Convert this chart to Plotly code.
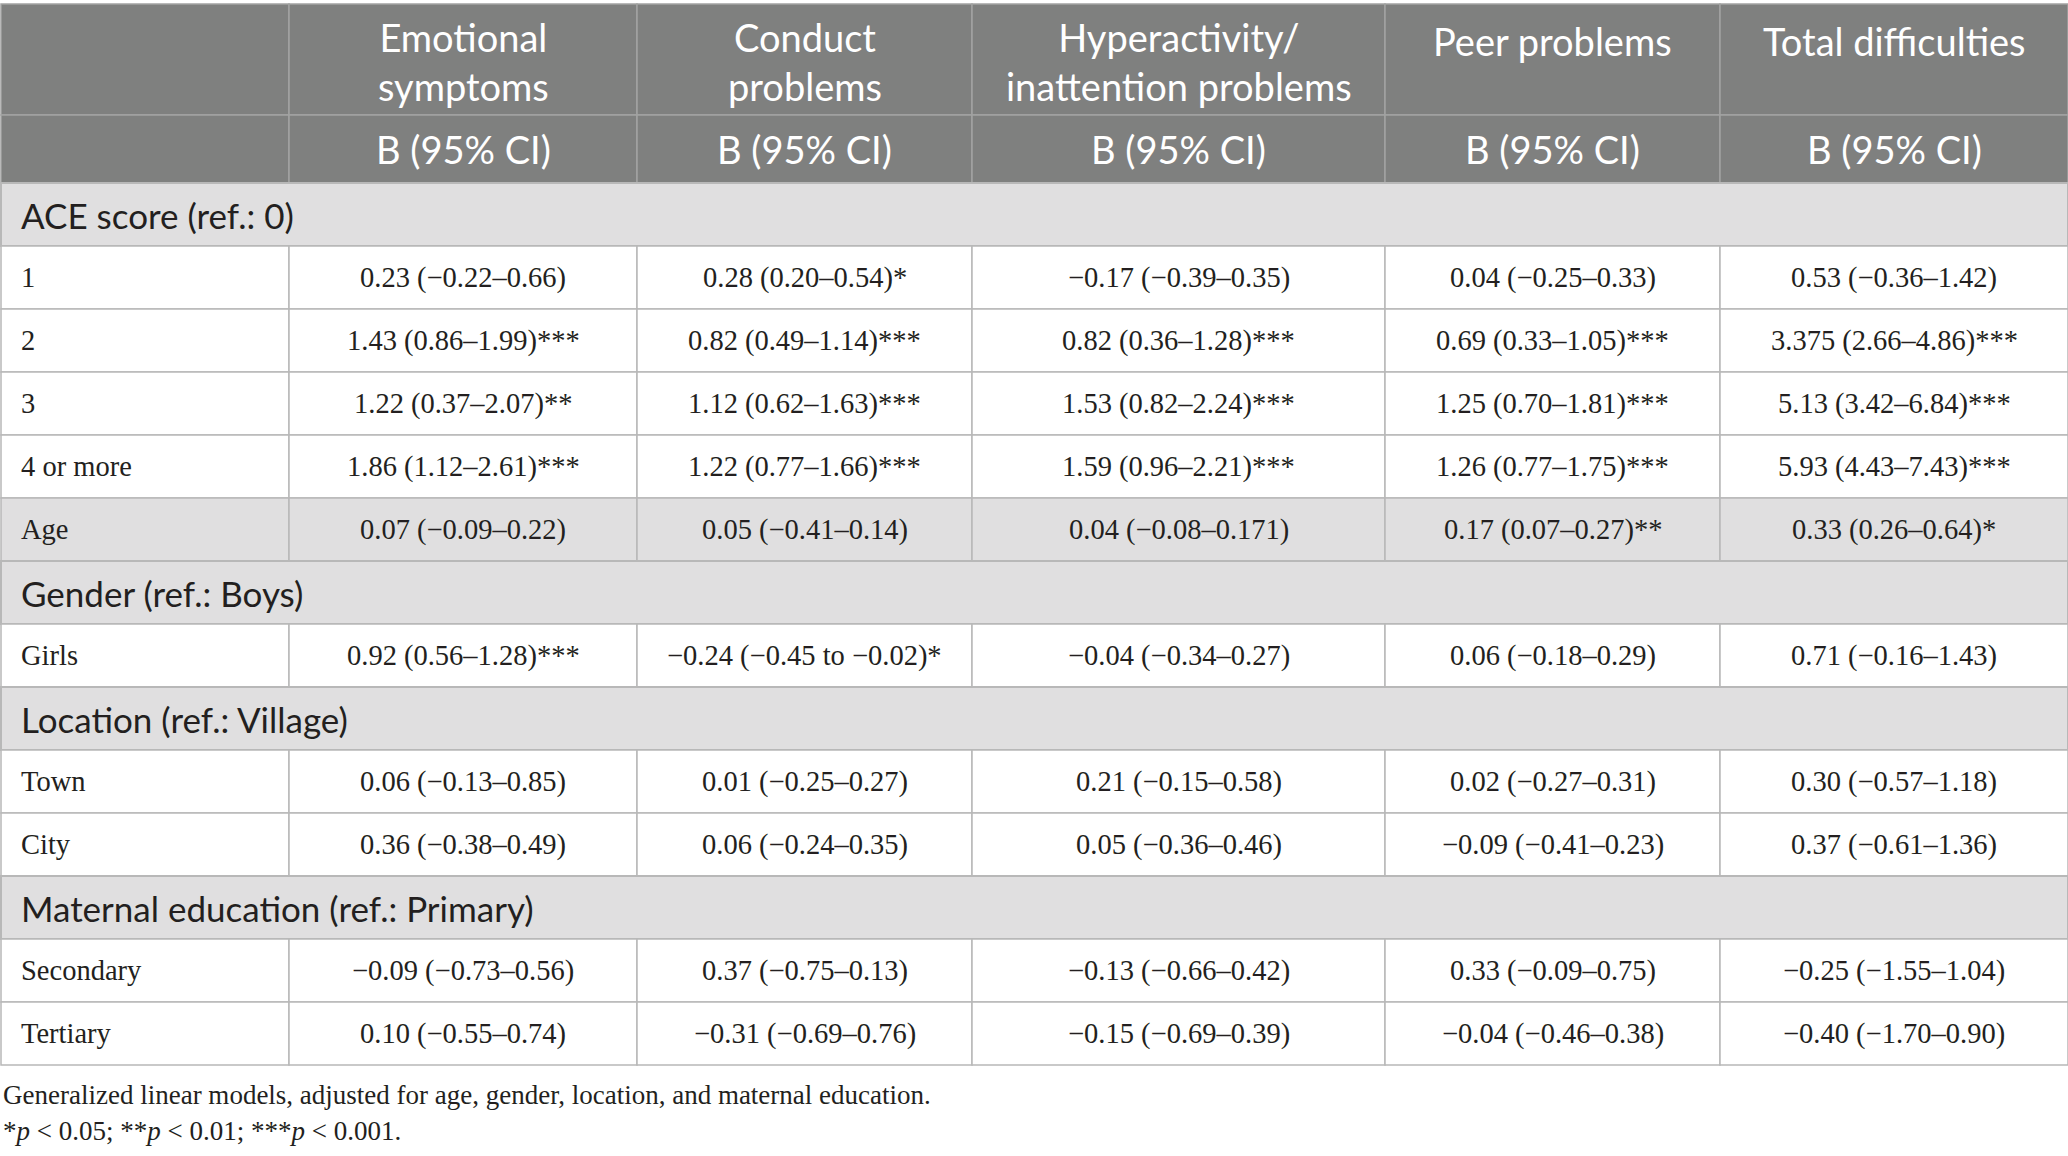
import plotly.graph_objects as go

# ---------------------------- Table content ---------------------------- #

OUTCOMES = [
    "Emotional<br>symptoms",
    "Conduct<br>problems",
    "Hyperactivity/<br>inattention problems",
    "Peer problems",
    "Total difficulties",
]
STAT_LABEL = "B (95% CI)"

ROW_LABELS = [
    "ACE score (ref.: 0)", "1", "2", "3", "4 or more", "Age",
    "Gender (ref.: Boys)", "Girls",
    "Location (ref.: Village)", "Town", "City",
    "Maternal education (ref.: Primary)", "Secondary", "Tertiary",
]
SHADED_ROWS = ["Age"]

EMOTIONAL = ["", "0.23 (−0.22–0.66)", "1.43 (0.86–1.99)***", "1.22 (0.37–2.07)**",
             "1.86 (1.12–2.61)***", "0.07 (−0.09–0.22)", "", "0.92 (0.56–1.28)***", "",
             "0.06 (−0.13–0.85)", "0.36 (−0.38–0.49)", "", "−0.09 (−0.73–0.56)",
             "0.10 (−0.55–0.74)"]
CONDUCT = ["", "0.28 (0.20–0.54)*", "0.82 (0.49–1.14)***", "1.12 (0.62–1.63)***",
           "1.22 (0.77–1.66)***", "0.05 (−0.41–0.14)", "", "−0.24 (−0.45 to −0.02)*", "",
           "0.01 (−0.25–0.27)", "0.06 (−0.24–0.35)", "", "0.37 (−0.75–0.13)",
           "−0.31 (−0.69–0.76)"]
HYPERACTIVITY = ["", "−0.17 (−0.39–0.35)", "0.82 (0.36–1.28)***", "1.53 (0.82–2.24)***",
                 "1.59 (0.96–2.21)***", "0.04 (−0.08–0.171)", "", "−0.04 (−0.34–0.27)", "",
                 "0.21 (−0.15–0.58)", "0.05 (−0.36–0.46)", "", "−0.13 (−0.66–0.42)",
                 "−0.15 (−0.69–0.39)"]
PEER = ["", "0.04 (−0.25–0.33)", "0.69 (0.33–1.05)***", "1.25 (0.70–1.81)***",
        "1.26 (0.77–1.75)***", "0.17 (0.07–0.27)**", "", "0.06 (−0.18–0.29)", "",
        "0.02 (−0.27–0.31)", "−0.09 (−0.41–0.23)", "", "0.33 (−0.09–0.75)",
        "−0.04 (−0.46–0.38)"]
TOTAL = ["", "0.53 (−0.36–1.42)", "3.375 (2.66–4.86)***", "5.13 (3.42–6.84)***",
         "5.93 (4.43–7.43)***", "0.33 (0.26–0.64)*", "", "0.71 (−0.16–1.43)", "",
         "0.30 (−0.57–1.18)", "0.37 (−0.61–1.36)", "", "−0.25 (−1.55–1.04)",
         "−0.40 (−1.70–0.90)"]

FOOTNOTES = [
    "Generalized linear models, adjusted for age, gender, location, and maternal education.",
    "*<i>p</i> < 0.05; **<i>p</i> < 0.01; ***<i>p</i> < 0.001.",
]

# ---------------------------- Layout / style ---------------------------- #

PAGE_W, PAGE_H = 2068, 1156

COL_EDGES = [1, 289, 637, 972, 1385, 1720, 2068]
HEADER_TOP, HEADER_MID, HEADER_BOTTOM = 4, 115, 183
TABLE_BOTTOM = 1065
HEADER_TEXT_Y = 61
SINGLE_LINE_Y = 41
LABEL_X = 19
FOOTNOTE_X = 1
FOOTNOTE_Y = [1095, 1131]

HEADER_FILL = "#7f807f"
HEADER_GRID = "#a2a3a2"
SECTION_FILL = "#e0dfe0"
BORDER = "#b8b8b8"
TEXT = "#231f20"

SANS = "Lato"
SERIF = "Liberation Serif"

# ---------------------------- Build figure ---------------------------- #

fig = go.Figure()

columns = [EMOTIONAL, CONDUCT, HYPERACTIVITY, PEER, TOTAL]
n_rows = len(ROW_LABELS)
row_h = (TABLE_BOTTOM - HEADER_BOTTOM) / n_rows


def rect(x0, x1, y0, y1, fill, line, width):
    fig.add_shape(type="rect", xref="x", yref="y", x0=x0, x1=x1, y0=y0, y1=y1,
                  fillcolor=fill, line=dict(color=line, width=width), layer="below")


def text(x, y, s, font, size, color, anchor="center"):
    fig.add_annotation(x=x, y=y, xref="x", yref="y", text=s, showarrow=False,
                       xanchor=anchor, yanchor="middle",
                       font=dict(family=font, size=size, color=color))


# header cells
for c in range(len(COL_EDGES) - 1):
    x0, x1 = COL_EDGES[c], COL_EDGES[c + 1]
    rect(x0, x1, HEADER_TOP, HEADER_MID, HEADER_FILL, HEADER_GRID, 1.5)
    rect(x0, x1, HEADER_MID, HEADER_BOTTOM, HEADER_FILL, HEADER_GRID, 1.5)

for c, name in enumerate(OUTCOMES):
    xc = (COL_EDGES[c + 1] + COL_EDGES[c + 2]) / 2
    y = HEADER_TEXT_Y if "<br>" in name else SINGLE_LINE_Y
    text(xc, y, name, SANS, 38, "white")
    text(xc, (HEADER_MID + HEADER_BOTTOM) / 2, STAT_LABEL, SANS, 38, "white")

# body rows
for r, label in enumerate(ROW_LABELS):
    y0 = HEADER_BOTTOM + r * row_h
    y1 = y0 + row_h
    yc = (y0 + y1) / 2
    is_section = all(col[r] == "" for col in columns)
    if is_section:
        rect(COL_EDGES[0], COL_EDGES[-1], y0, y1, SECTION_FILL, BORDER, 2)
        text(LABEL_X, yc, label, SANS, 35, TEXT, "left")
        continue
    fill = SECTION_FILL if label in SHADED_ROWS else "white"
    for c in range(len(COL_EDGES) - 1):
        rect(COL_EDGES[c], COL_EDGES[c + 1], y0, y1, fill, BORDER, 1.5)
    text(LABEL_X, yc, label, SERIF, 28.5, TEXT, "left")
    for c, col in enumerate(columns):
        xc = (COL_EDGES[c + 1] + COL_EDGES[c + 2]) / 2
        text(xc, yc, col[r], SERIF, 28.5, TEXT)

# footnotes
for y, note in zip(FOOTNOTE_Y, FOOTNOTES):
    text(FOOTNOTE_X, y, note, SERIF, 27, TEXT, "left")

fig.update_layout(
    width=PAGE_W,
    height=PAGE_H,
    margin=dict(l=0, r=0, t=0, b=0),
    paper_bgcolor="white",
    plot_bgcolor="white",
    showlegend=False,
    xaxis=dict(range=[0, PAGE_W], visible=False, fixedrange=True),
    yaxis=dict(range=[PAGE_H, 0], visible=False, fixedrange=True),
)

# drop the default browser body margin so the table sits flush like the original
fig.write_html(
    "out.html",
    config={"displayModeBar": False},
    post_script="document.body.style.margin='0';document.body.style.overflow='hidden';",
)
